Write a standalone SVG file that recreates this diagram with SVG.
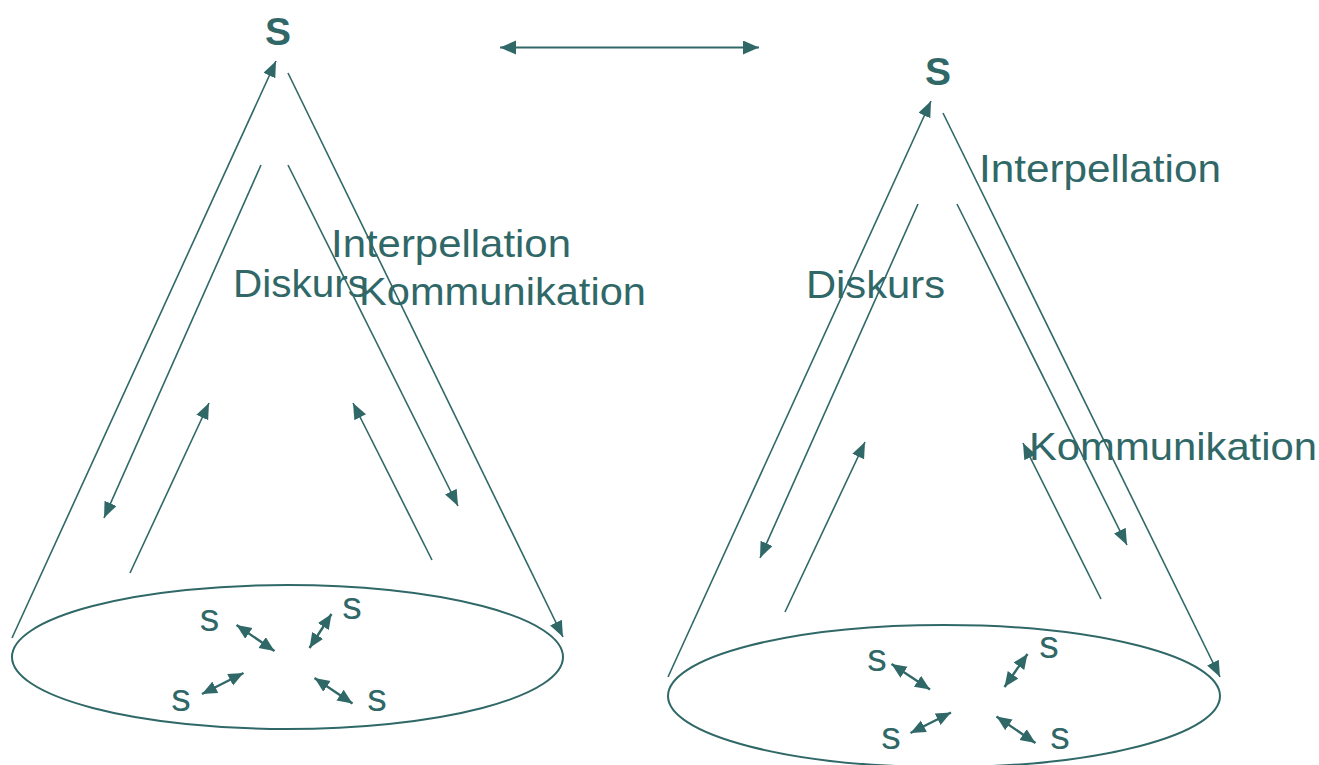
<svg xmlns="http://www.w3.org/2000/svg" width="1319" height="765" viewBox="0 0 1319 765">
<style>
.ln{stroke:#306868;stroke-width:1.6;fill:none}
.sa{stroke:#306868;stroke-width:2.4;fill:none}
.el{stroke:#306868;stroke-width:2;fill:none}
.t{font-family:"Liberation Sans",Arial,sans-serif;font-size:39px;fill:#306868}
.b{font-family:"Liberation Sans",Arial,sans-serif;font-size:39px;font-weight:bold;fill:#306868;text-anchor:middle}
.s{font-family:"Liberation Sans",Arial,sans-serif;font-size:39px;fill:#306868;text-anchor:middle}
</style>
<defs>
<marker id="ah" markerUnits="userSpaceOnUse" markerWidth="17" markerHeight="14" refX="16" refY="6.5" orient="auto"><path d="M0,0 L16,6.5 L0,13 z" fill="#306868"/></marker>
<marker id="ahs" markerUnits="userSpaceOnUse" markerWidth="16" markerHeight="14" refX="15" refY="6.5" orient="auto-start-reverse"><path d="M0,0 L15,6.5 L0,13 z" fill="#306868"/></marker>
<marker id="ahh" markerUnits="userSpaceOnUse" markerWidth="17" markerHeight="15" refX="16" refY="7" orient="auto-start-reverse"><path d="M0,0 L16,7 L0,14 z" fill="#306868"/></marker>
</defs>
<rect width="1319" height="765" fill="#fff"/>

<g id="left-base"><ellipse class="el" cx="287.5" cy="657" rx="275.5" ry="72"/></g>
<g id="right-base"><ellipse class="el" cx="944" cy="696" rx="276" ry="71"/></g>

<g id="left-top-S"><text class="b" x="278" y="45">S</text></g>
<g id="right-top-S"><text class="b" x="938" y="85">S</text></g>

<g id="left-interpellation"><text class="t" x="331" y="257" textLength="240" lengthAdjust="spacingAndGlyphs">Interpellation</text></g>
<g id="left-diskurs"><text class="t" x="233" y="297" textLength="135" lengthAdjust="spacingAndGlyphs">Diskurs</text></g>
<g id="left-kommunikation"><text class="t" x="359" y="305" textLength="287" lengthAdjust="spacingAndGlyphs">Kommunikation</text></g>

<g id="right-interpellation"><text class="t" x="979" y="182" textLength="242" lengthAdjust="spacingAndGlyphs">Interpellation</text></g>
<g id="right-diskurs"><text class="t" x="806" y="298" textLength="139" lengthAdjust="spacingAndGlyphs">Diskurs</text></g>
<g id="right-kommunikation"><text class="t" x="1029" y="460" textLength="288" lengthAdjust="spacingAndGlyphs">Kommunikation</text></g>

<g id="left-s1"><text class="s" x="209.5" y="631">s</text></g>
<g id="left-s2"><text class="s" x="352" y="619">s</text></g>
<g id="left-s3"><text class="s" x="181" y="711">s</text></g>
<g id="left-s4"><text class="s" x="377" y="711">s</text></g>

<g id="right-s1"><text class="s" x="877" y="671">s</text></g>
<g id="right-s2"><text class="s" x="1049" y="658">s</text></g>
<g id="right-s3"><text class="s" x="891" y="749">s</text></g>
<g id="right-s4"><text class="s" x="1060" y="749">s</text></g>

<g id="connectors">
<line x1="500" y1="47.5" x2="759" y2="47.5" stroke="#306868" stroke-width="2" marker-start="url(#ahh)" marker-end="url(#ahh)"/>

<line class="ln" x1="12" y1="638" x2="276" y2="61" marker-end="url(#ah)"/>
<line class="ln" x1="288" y1="73" x2="563" y2="637" marker-end="url(#ah)"/>
<line class="ln" x1="261" y1="165" x2="104" y2="518" marker-end="url(#ah)"/>
<line class="ln" x1="288" y1="165" x2="458" y2="506" marker-end="url(#ah)"/>
<line class="ln" x1="130" y1="573" x2="209" y2="403" marker-end="url(#ah)"/>
<line class="ln" x1="432" y1="560" x2="353" y2="403" marker-end="url(#ah)"/>

<line class="ln" x1="668" y1="677" x2="931" y2="101" marker-end="url(#ah)"/>
<line class="ln" x1="943" y1="113" x2="1220" y2="677" marker-end="url(#ah)"/>
<line class="ln" x1="918" y1="204" x2="760" y2="558" marker-end="url(#ah)"/>
<line class="ln" x1="957" y1="204" x2="1127" y2="545" marker-end="url(#ah)"/>
<line class="ln" x1="785" y1="612" x2="865" y2="442" marker-end="url(#ah)"/>
<line class="ln" x1="1101" y1="599" x2="1023" y2="443" marker-end="url(#ah)"/>

<line class="sa" x1="236.5" y1="625" x2="274.5" y2="651" marker-start="url(#ahs)" marker-end="url(#ahs)"/>
<line class="sa" x1="331.5" y1="614" x2="309.5" y2="648" marker-start="url(#ahs)" marker-end="url(#ahs)"/>
<line class="sa" x1="243.5" y1="673" x2="202" y2="694" marker-start="url(#ahs)" marker-end="url(#ahs)"/>
<line class="sa" x1="314.5" y1="678" x2="352.5" y2="703.5" marker-start="url(#ahs)" marker-end="url(#ahs)"/>

<line class="sa" x1="891.5" y1="664" x2="930" y2="689.5" marker-start="url(#ahs)" marker-end="url(#ahs)"/>
<line class="sa" x1="1027.5" y1="654" x2="1004.5" y2="687" marker-start="url(#ahs)" marker-end="url(#ahs)"/>
<line class="sa" x1="951" y1="712.5" x2="910.5" y2="733" marker-start="url(#ahs)" marker-end="url(#ahs)"/>
<line class="sa" x1="996.5" y1="716.5" x2="1035.5" y2="743" marker-start="url(#ahs)" marker-end="url(#ahs)"/>
</g>
</svg>
